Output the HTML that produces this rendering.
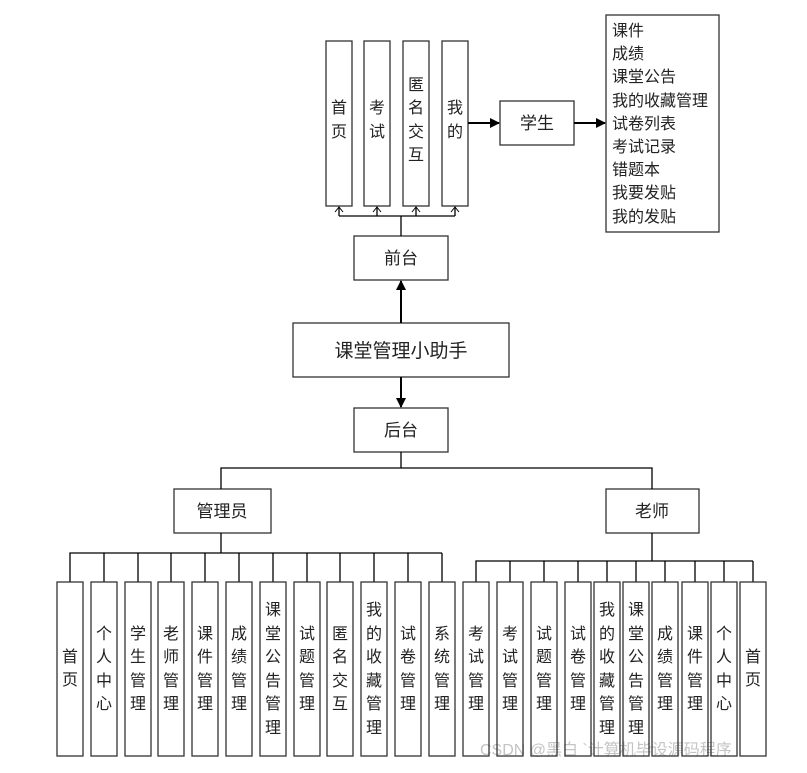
<!DOCTYPE html>
<html><head><meta charset="utf-8"><style>
body{margin:0;background:#fff}
svg text{font-family:"Liberation Sans","Noto Sans CJK SC",sans-serif;fill:#222}
</style></head><body>
<svg width="807" height="768" viewBox="0 0 807 768" xmlns="http://www.w3.org/2000/svg">
<defs>
<marker id="a" markerWidth="10" markerHeight="10" refX="9" refY="5" orient="auto" markerUnits="userSpaceOnUse"><path d="M0,0 L10,5 L0,10 z" fill="#000"/></marker>
<marker id="o" markerWidth="10" markerHeight="8" refX="5" refY="1" orient="0" markerUnits="userSpaceOnUse"><path d="M1,6 L5,1 L9,6" fill="none" stroke="#000"/></marker>
</defs>
<g stroke="#333" stroke-width="1.3" fill="#fff">
<rect x="326" y="41" width="26" height="165"/>
<rect x="364" y="41" width="26" height="165"/>
<rect x="403" y="41" width="26" height="165"/>
<rect x="442" y="41" width="26" height="165"/>
<rect x="500" y="101" width="74" height="44"/>
<rect x="606" y="15" width="113" height="217"/>
<rect x="354" y="236" width="94" height="44"/>
<rect x="293" y="323" width="216" height="54"/>
<rect x="354" y="408" width="94" height="44"/>
<rect x="174" y="489" width="97" height="44"/>
<rect x="606" y="489" width="93" height="44"/>
</g>
<g stroke="#000" stroke-width="1.3" fill="none">
<path d="M339,216 H455 M401,216 V236"/>
<path d="M339,216 V207" marker-end="url(#o)"/>
<path d="M377,216 V207" marker-end="url(#o)"/>
<path d="M416,216 V207" marker-end="url(#o)"/>
<path d="M455,216 V207" marker-end="url(#o)"/>
<path d="M468,123 H499" stroke-width="2" marker-end="url(#a)"/>
<path d="M574,123 H605" stroke-width="2" marker-end="url(#a)"/>
<path d="M401,323 V281" stroke-width="2" marker-end="url(#a)"/>
<path d="M401,377 V407" stroke-width="2" marker-end="url(#a)"/>
<path d="M401,452 V468 M221,489 V468 H652 V489"/>
<path d="M221,533 V553 M70,582 V553 H442"/>
<path d="M652,533 V561 M476,582 V561 H753"/>
<path d="M104,553V582M138,553V582M171,553V582M205,553V582M239,553V582M273,553V582M307,553V582M340,553V582M374,553V582M408,553V582M442,553V582"/>
<path d="M510,561V582M544,561V582M578,561V582M607,561V582M636,561V582M665,561V582M695,561V582M724,561V582M753,561V582"/>
</g>
<text x="480" y="755" font-size="16" style="fill:#c4c4c4">CSDN @黑白 `计算机毕设源码程序</text>
<g stroke="#333" stroke-width="1.3" fill="none">
<rect x="57" y="582" width="26" height="174"/><rect x="91" y="582" width="26" height="174"/><rect x="125" y="582" width="26" height="174"/><rect x="158" y="582" width="26" height="174"/><rect x="192" y="582" width="26" height="174"/><rect x="226" y="582" width="26" height="174"/><rect x="260" y="582" width="26" height="174"/><rect x="294" y="582" width="26" height="174"/><rect x="327" y="582" width="26" height="174"/><rect x="361" y="582" width="26" height="174"/><rect x="395" y="582" width="26" height="174"/><rect x="429" y="582" width="26" height="174"/>
<rect x="463" y="582" width="26" height="174"/><rect x="497" y="582" width="26" height="174"/><rect x="531" y="582" width="26" height="174"/><rect x="565" y="582" width="26" height="174"/><rect x="594" y="582" width="26" height="174"/><rect x="623" y="582" width="26" height="174"/><rect x="652" y="582" width="26" height="174"/><rect x="682" y="582" width="26" height="174"/><rect x="711" y="582" width="26" height="174"/><rect x="740" y="582" width="26" height="174"/>
</g>
<g font-size="17" text-anchor="middle">
<text x="537" y="129">学生</text>
<text x="401" y="264">前台</text>
<text x="401" y="357" font-size="19">课堂管理小助手</text>
<text x="401" y="436">后台</text>
<text x="222" y="517">管理员</text>
<text x="652" y="517">老师</text>
</g>
<g font-size="16">
<text x="612" y="36">课件</text><text x="612" y="59">成绩</text><text x="612" y="82">课堂公告</text><text x="612" y="106">我的收藏管理</text><text x="612" y="129">试卷列表</text><text x="612" y="152">考试记录</text><text x="612" y="175">错题本</text><text x="612" y="198">我要发贴</text><text x="612" y="222">我的发贴</text>
</g>
<g font-size="16" text-anchor="middle">
<text x="339" y="113">首</text><text x="339" y="137">页</text>
<text x="377" y="113">考</text><text x="377" y="137">试</text>
<text x="416" y="90">匿</text><text x="416" y="113">名</text><text x="416" y="137">交</text><text x="416" y="160">互</text>
<text x="455" y="113">我</text><text x="455" y="137">的</text>
</g>
<g font-size="16" text-anchor="middle">
<text x="70" y="662">首</text><text x="70" y="685">页</text>
<text x="104" y="639">个</text><text x="104" y="662">人</text><text x="104" y="686">中</text><text x="104" y="709">心</text>
<text x="138" y="639">学</text><text x="138" y="662">生</text><text x="138" y="686">管</text><text x="138" y="709">理</text>
<text x="171" y="639">老</text><text x="171" y="662">师</text><text x="171" y="686">管</text><text x="171" y="709">理</text>
<text x="205" y="639">课</text><text x="205" y="662">件</text><text x="205" y="686">管</text><text x="205" y="709">理</text>
<text x="239" y="639">成</text><text x="239" y="662">绩</text><text x="239" y="686">管</text><text x="239" y="709">理</text>
<text x="273" y="615">课</text><text x="273" y="639">堂</text><text x="273" y="662">公</text><text x="273" y="686">告</text><text x="273" y="709">管</text><text x="273" y="733">理</text>
<text x="307" y="639">试</text><text x="307" y="662">题</text><text x="307" y="686">管</text><text x="307" y="709">理</text>
<text x="340" y="639">匿</text><text x="340" y="662">名</text><text x="340" y="686">交</text><text x="340" y="709">互</text>
<text x="374" y="615">我</text><text x="374" y="639">的</text><text x="374" y="662">收</text><text x="374" y="686">藏</text><text x="374" y="709">管</text><text x="374" y="733">理</text>
<text x="408" y="639">试</text><text x="408" y="662">卷</text><text x="408" y="686">管</text><text x="408" y="709">理</text>
<text x="442" y="639">系</text><text x="442" y="662">统</text><text x="442" y="686">管</text><text x="442" y="709">理</text>
<text x="476" y="639">考</text><text x="476" y="662">试</text><text x="476" y="686">管</text><text x="476" y="709">理</text>
<text x="510" y="639">考</text><text x="510" y="662">试</text><text x="510" y="686">管</text><text x="510" y="709">理</text>
<text x="544" y="639">试</text><text x="544" y="662">题</text><text x="544" y="686">管</text><text x="544" y="709">理</text>
<text x="578" y="639">试</text><text x="578" y="662">卷</text><text x="578" y="686">管</text><text x="578" y="709">理</text>
<text x="607" y="615">我</text><text x="607" y="639">的</text><text x="607" y="662">收</text><text x="607" y="686">藏</text><text x="607" y="709">管</text><text x="607" y="733">理</text>
<text x="636" y="615">课</text><text x="636" y="639">堂</text><text x="636" y="662">公</text><text x="636" y="686">告</text><text x="636" y="709">管</text><text x="636" y="733">理</text>
<text x="665" y="639">成</text><text x="665" y="662">绩</text><text x="665" y="686">管</text><text x="665" y="709">理</text>
<text x="695" y="639">课</text><text x="695" y="662">件</text><text x="695" y="686">管</text><text x="695" y="709">理</text>
<text x="724" y="639">个</text><text x="724" y="662">人</text><text x="724" y="686">中</text><text x="724" y="709">心</text>
<text x="753" y="662">首</text><text x="753" y="685">页</text>
</g>
</svg>
</body></html>
